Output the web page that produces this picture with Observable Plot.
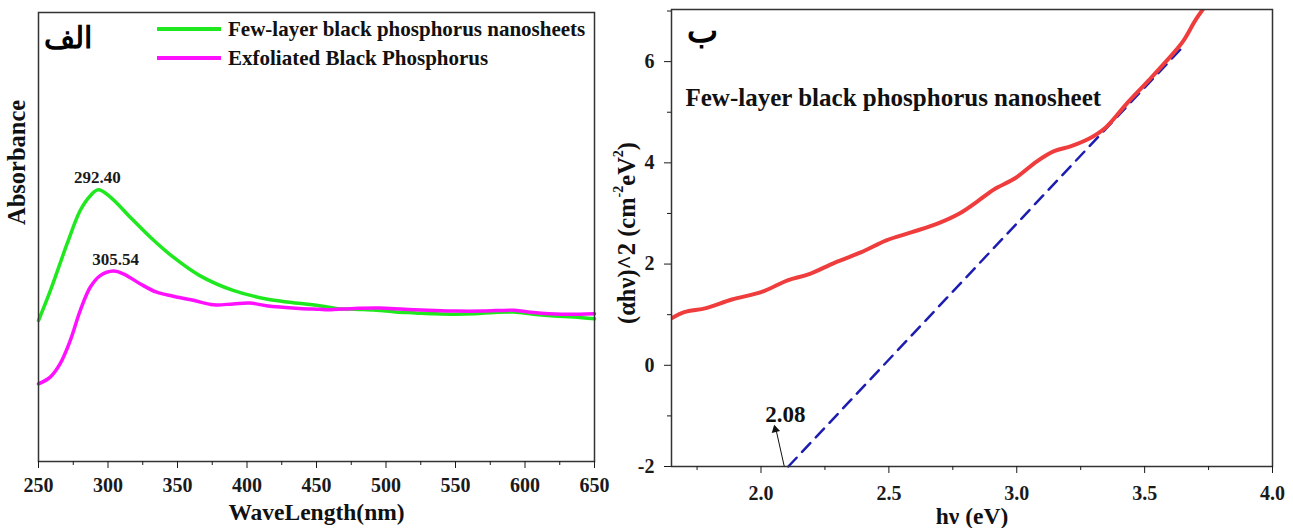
<!DOCTYPE html>
<html><head><meta charset="utf-8">
<script src="https://cdn.jsdelivr.net/npm/d3@7"></script>
<script src="https://cdn.jsdelivr.net/npm/@observablehq/plot@0.6"></script>
<style>
body{margin:0;background:#fff}
#wrap{position:relative;width:1293px;height:528px;overflow:hidden;font-family:"Liberation Serif","Times New Roman",serif;font-weight:bold;color:#111}
#wrap svg{position:absolute;top:0}
#wrap svg text{font-family:"Liberation Serif","Times New Roman",serif}
#wrap svg text.ar{font-family:"DejaVu Sans",sans-serif}
.leg{position:absolute;left:157px;display:flex;align-items:center;font-size:21px;line-height:24px;white-space:nowrap}
.leg .sw{display:inline-block;width:64px;height:4px;margin-right:7px}
</style></head><body><div id="wrap"></div>
<script>
// ---- Panel الف : UV-Vis absorbance ----
const fewWavelength = [250,258.6,270.6,280,287.3,293,301.7,316,330.3,347,366,390,414,452,464,478,493,507,521,535,550,564,578,592,606,621,635,650];
const fewAbsorbance = [0.314,0.381,0.485,0.559,0.592,0.605,0.589,0.544,0.500,0.455,0.414,0.381,0.362,0.347,0.341,0.339,0.337,0.333,0.331,0.329,0.328,0.329,0.332,0.333,0.328,0.324,0.322,0.318];
const exfWavelength = [250,258.4,265.6,272.8,280,287.2,294.4,303.9,311,323,335,347,361.4,375.7,390,402,414,437.8,452,458.5,478,495,513,530,550,570,592,606,626,650];
const exfAbsorbance = [0.173,0.188,0.218,0.269,0.336,0.388,0.414,0.424,0.418,0.396,0.377,0.368,0.359,0.349,0.351,0.353,0.347,0.341,0.339,0.338,0.341,0.342,0.339,0.337,0.335,0.335,0.337,0.332,0.328,0.329];
const seriesNames = ["Few-layer black phosphorus nanosheets","Exfoliated Black Phosphorus"];
const peakWavelength = [292.40,305.54];
const peakAbsorbance = [0.605,0.424];
const peakLabels = ["292.40","305.54"];
const wlMajorTicks = [250,300,350,400,450,500,550,600,650];
const wlMinorTicks = [275,325,375,425,475,525,575,625];

// ---- Panel ب : Tauc plot ----
const energy = [1.65,1.70,1.785,1.886,2.003,2.104,2.188,2.289,2.39,2.49,2.59,2.69,2.776,2.844,2.91,2.995,3.079,3.146,3.213,3.28,3.348,3.43,3.516,3.583,3.65,3.70,3.745];
const tauc   = [0.93,1.05,1.13,1.30,1.45,1.68,1.80,2.03,2.23,2.47,2.63,2.80,3.00,3.23,3.47,3.70,4.03,4.23,4.33,4.47,4.70,5.17,5.63,6.00,6.40,6.83,7.15];
const fitEnergy = [2.107,3.64];
const fitTauc = [-2,6.24];
const gapLabel = "2.08";
const arrowTail = [2.091,-2];
const arrowTip = [2.056,-1.21];
const eMajorTicks = [2.0,2.5,3.0,3.5,4.0];
const eMinorTicks = [1.75,2.25,2.75,3.25,3.75];
const yMajorTicks = [-2,0,2,4,6];
const yMinorTicks = [-1,1,3,5,7];

const FONT = '"Liberation Serif","Times New Roman",serif';
const GREEN = "#1fe81f", MAGENTA = "#ff10ff", RED = "#ef3d3d", BLUE = "#1d1db0";

const fewData = fewWavelength.map((w,i)=>({w,a:fewAbsorbance[i]}));
const exfData = exfWavelength.map((w,i)=>({w,a:exfAbsorbance[i]}));
const peaks = peakWavelength.map((w,i)=>({w,a:peakAbsorbance[i],t:peakLabels[i]}));
const taucData = energy.map((e,i)=>({e,v:tauc[i]}));
const fitData = fitEnergy.map((e,i)=>({e,v:fitTauc[i]}));

const wrap = document.getElementById("wrap");

const left = Plot.plot({
  width:620, height:528, marginLeft:38, marginRight:26, marginTop:12, marginBottom:67,
  style:{fontFamily:FONT, fontWeight:"bold", color:"#1a1a1a", background:"transparent", overflow:"visible"},
  x:{domain:[250,650]}, y:{domain:[0,1], axis:null},
  marks:[
    Plot.line(fewData,{x:"w",y:"a",stroke:GREEN,strokeWidth:3.5,curve:"catmull-rom"}),
    Plot.line(exfData,{x:"w",y:"a",stroke:MAGENTA,strokeWidth:3.5,curve:"catmull-rom"}),
    Plot.frame({stroke:"#333",strokeWidth:1.5}),
    Plot.axisX({ticks:wlMajorTicks,tickSize:7,tickPadding:9,fontSize:20,label:null,tickFormat:d=>String(d)}),
    Plot.axisX({ticks:wlMinorTicks,tickSize:4,text:null,label:null}),
    Plot.text(peaks,{x:"w",y:"a",text:"t",dy:-12,fontSize:17,fill:"#1a1a1a"}),
    Plot.text(["WaveLength(nm)"],{frameAnchor:"bottom",dy:58,fontSize:23.5,text:d=>d,fill:"#111"}),
    Plot.text(["Absorbance"],{frameAnchor:"left",rotate:-90,dx:-21,dy:-12,fontSize:24.5,text:d=>d,fill:"#111"}),
    Plot.text(["الف"],{frameAnchor:"top-left",dx:5,dy:14,fontSize:30,text:d=>d,className:"ar",fontFamily:"DejaVu Sans",fontWeight:"bold",textAnchor:"start",fill:"#000"})
  ]
});
left.style.left = "0px";
wrap.appendChild(left);

const right = Plot.plot({
  width:673, height:528, marginLeft:51, marginRight:21, marginTop:9, marginBottom:62,
  style:{fontFamily:FONT, fontWeight:"bold", color:"#1a1a1a", background:"transparent", overflow:"visible"},
  x:{domain:[1.65,4.0]}, y:{domain:[-2,7.03]},
  marks:[
    Plot.line(fitData,{x:"e",y:"v",stroke:BLUE,strokeWidth:2.5,strokeDasharray:"12,8"}),
    Plot.line(taucData,{x:"e",y:"v",stroke:RED,strokeWidth:4,curve:"catmull-rom",clip:true}),
    Plot.frame({stroke:"#333",strokeWidth:1.5}),
    Plot.axisX({ticks:eMajorTicks,tickSize:7,tickPadding:12,fontSize:20,label:null,tickFormat:d3.format(".1f")}),
    Plot.axisX({ticks:eMinorTicks,tickSize:4,text:null,label:null}),
    Plot.axisY({ticks:yMajorTicks,tickSize:7,tickPadding:10,fontSize:20,label:null,tickFormat:d=>String(d)}),
    Plot.axisY({ticks:yMinorTicks,tickSize:4,text:null,label:null}),
    Plot.link([{x1:arrowTail[0],y1:arrowTail[1],x2:arrowTip[0],y2:arrowTip[1]}],{x1:"x1",y1:"y1",x2:"x2",y2:"y2",stroke:"#111",strokeWidth:1}),
    Plot.dot([{x:arrowTip[0],y:arrowTip[1]}],{x:"x",y:"y",symbol:"triangle",r:3.2,rotate:-13,fill:"#111",stroke:"none",dy:3}),
    Plot.text([{x:2.095,y:-0.97,t:gapLabel}],{x:"x",y:"y",text:"t",fontSize:23,fill:"#111"}),
    Plot.text(["Few-layer black phosphorus nanosheet"],{frameAnchor:"top-left",dx:14,dy:79,fontSize:25,text:d=>d,textAnchor:"start",fill:"#111"}),
    Plot.text(["hν (eV)"],{frameAnchor:"bottom",dy:57,fontSize:23.5,text:d=>d,fill:"#111"}),
    Plot.text(["ب"],{frameAnchor:"top-left",dx:15,dy:9,fontSize:33,text:d=>d,className:"ar",fontFamily:"DejaVu Sans",fontWeight:"bold",textAnchor:"start",fill:"#000"})
  ]
});
right.style.left = "620px";
// y-axis title with superscripts
const ylab = d3.select(right).append("text")
  .attr("transform","translate(9,233) rotate(-90)")
  .attr("text-anchor","middle").attr("dominant-baseline","middle")
  .attr("font-size",24.5).attr("font-weight","bold").attr("fill","#111").attr("font-family",FONT);
ylab.append("tspan").text("(αhν)^2 (cm");
ylab.append("tspan").attr("font-size",14).attr("dy",-9).text("-2");
ylab.append("tspan").attr("dy",9).text("eV");
ylab.append("tspan").attr("font-size",14).attr("dy",-9).text("2");
ylab.append("tspan").attr("dy",9).text(")");
wrap.appendChild(right);

// legend for panel الف
[[seriesNames[0],GREEN,17],[seriesNames[1],MAGENTA,46]].forEach(([name,col,top])=>{
  const d = document.createElement("div");
  d.className = "leg"; d.style.top = top+"px";
  d.innerHTML = `<span class="sw" style="background:${col}"></span><span>${name}</span>`;
  wrap.appendChild(d);
});
</script>
</body></html>
